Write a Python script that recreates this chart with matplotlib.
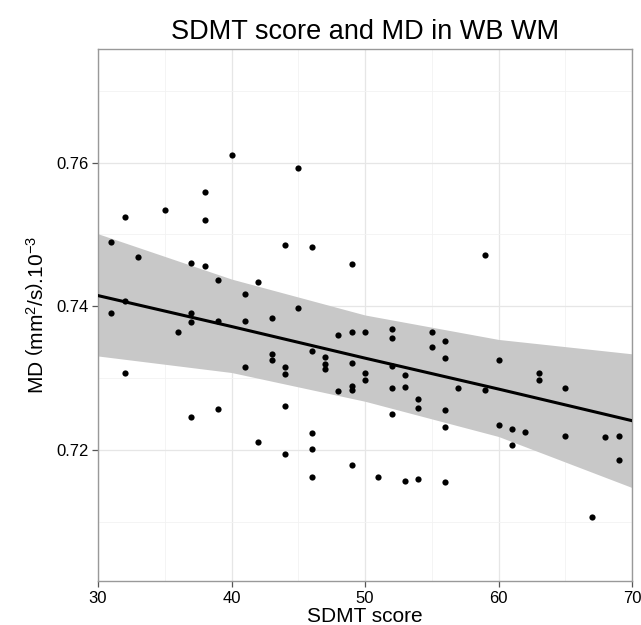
import numpy as np
import matplotlib
matplotlib.use("Agg")
import matplotlib.pyplot as plt

plt.rcParams['font.family'] = ['Liberation Sans', 'DejaVu Sans']
plt.rcParams['mathtext.fontset'] = 'custom'
plt.rcParams['mathtext.rm'] = 'Liberation Sans'
plt.rcParams['mathtext.it'] = 'Liberation Sans:italic'
plt.rcParams['mathtext.default'] = 'regular'

sdmt = [40, 38, 35, 32, 38, 31, 33, 37, 38, 39, 42, 41, 45, 44, 46, 49, 59,
        32, 31, 37, 37, 39, 41, 43, 36, 43, 43, 41, 32, 39, 37, 42, 45, 44, 44,
        46, 47, 47, 47, 48, 49, 50, 52, 52, 55, 55, 56, 56, 49, 50, 50, 52, 53,
        53, 52, 48, 49, 49, 54, 54, 56, 56, 57, 52, 44, 46, 46, 44, 49, 46, 51,
        53, 54, 56, 59, 60, 63, 63, 65, 60, 61, 61, 62, 65, 68, 69, 69, 67]
md = [0.7610, 0.7559, 0.7534, 0.7524, 0.7520, 0.7490, 0.7468, 0.7460, 0.7456,
      0.7436, 0.7434, 0.7417, 0.7592, 0.7486, 0.7482, 0.7459, 0.7472,
      0.7408, 0.7391, 0.7391, 0.7378, 0.7380, 0.7379, 0.7384, 0.7364, 0.7334,
      0.7326, 0.7316, 0.7307, 0.7257, 0.7246, 0.7211, 0.7398, 0.7315, 0.7306,
      0.7338, 0.7329, 0.7320, 0.7313, 0.7360, 0.7365, 0.7364, 0.7368, 0.7356,
      0.7365, 0.7343, 0.7352, 0.7328, 0.7321, 0.7307, 0.7297, 0.7317, 0.7305,
      0.7288, 0.7286, 0.7282, 0.7289, 0.7284, 0.7271, 0.7258, 0.7256, 0.7232,
      0.7286, 0.7250, 0.7262, 0.7224, 0.7201, 0.7195, 0.7180, 0.7163, 0.7162,
      0.7157, 0.7160, 0.7156, 0.7283, 0.7325, 0.7307, 0.7298, 0.7287, 0.7235,
      0.7229, 0.7207, 0.7225, 0.7219, 0.7218, 0.7220, 0.7187, 0.7107]

# fitted line and 95% confidence band
fit_x = [30, 40, 50, 60, 70]
fit_y = [0.7415, 0.7372, 0.7328, 0.7285, 0.7241]
band_upper = [0.7501, 0.7438, 0.7388, 0.7354, 0.7334]
band_lower = [0.7331, 0.7308, 0.7268, 0.7219, 0.7148]

x_ticks = [30, 40, 50, 60, 70]
y_ticks = [0.72, 0.74, 0.76]
y_tick_labels = ["0.72", "0.74", "0.76"]

fig = plt.figure(figsize=(6.41, 6.25), dpi=100)
ax = fig.add_axes([98/641, 1 - 581/625, (632 - 98)/641, (581 - 49)/625])

ax.fill_between(fit_x, band_lower, band_upper, color='#c8c8c8', lw=0, zorder=2)
ax.plot(fit_x, fit_y, color='black', lw=2.2, zorder=3)
ax.scatter(sdmt, md, s=20, color='black', zorder=4, linewidths=0)

ax.set_xlim(30, 70)
ax.set_ylim(0.7018, 0.7758)
ax.set_xticks(x_ticks)
ax.set_yticks(y_ticks)
ax.set_yticklabels(y_tick_labels)
ax.set_xticks([35, 45, 55, 65], minor=True)
ax.set_yticks([0.71, 0.73, 0.75, 0.77], minor=True)
ax.grid(True, which='major', color='#e6e6e6', lw=0.9, zorder=0)
ax.grid(True, which='minor', color='#f2f2f2', lw=0.6, zorder=0)
ax.tick_params(which='minor', length=0)
ax.tick_params(which='major', length=4, width=0.9, color='#555555',
               labelsize=12, labelcolor='black', pad=3)
for sp in ax.spines.values():
    sp.set_color('#999999')
    sp.set_linewidth(1.0)
ax.set_axisbelow(True)

ax.set_xlabel('SDMT score', fontsize=15, labelpad=1)
ax.set_ylabel(r'MD $\left(mm^2/s\right)$.10$^{-3}$', fontsize=15, labelpad=6)
ax.set_title('SDMT score and MD in WB WM', fontsize=19.5, pad=7)

fig.savefig('out.png', dpi=100)
